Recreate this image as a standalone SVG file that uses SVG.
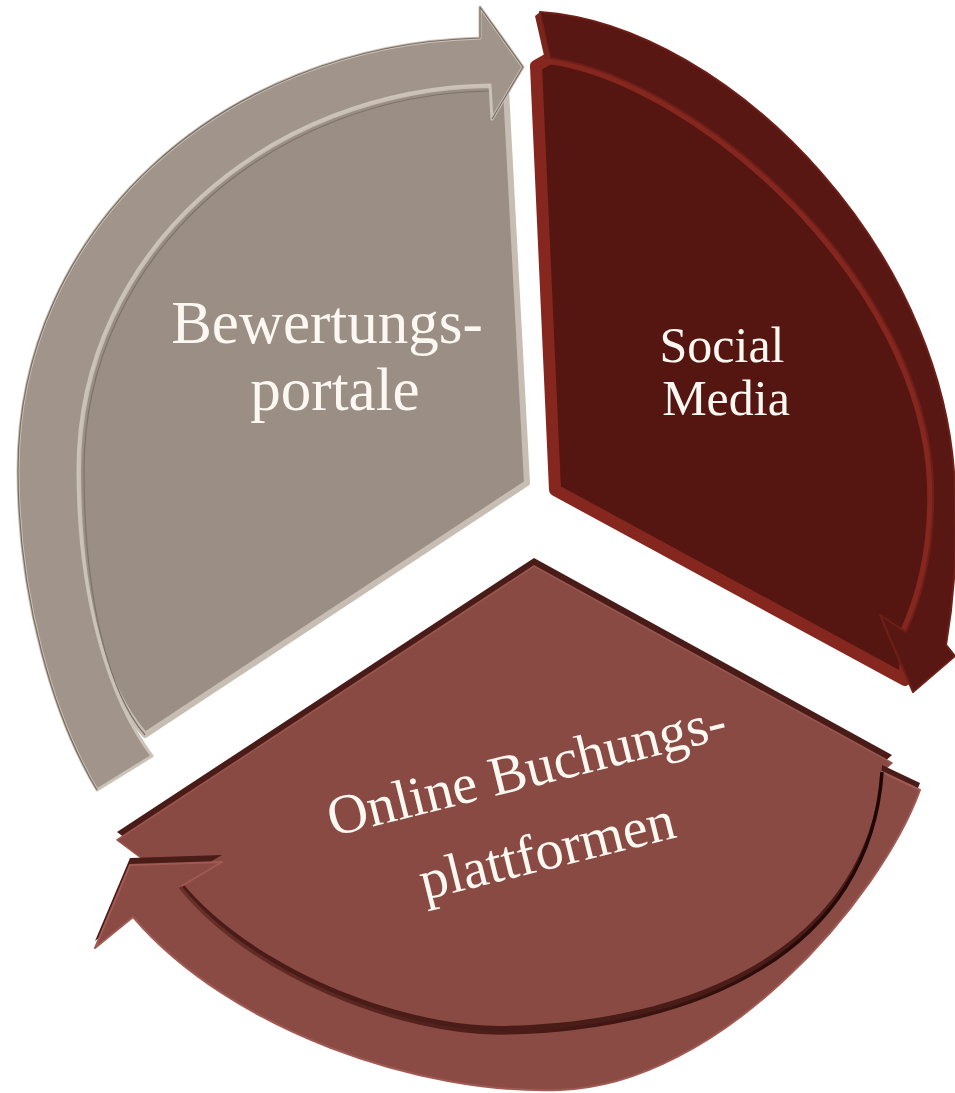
<svg xmlns="http://www.w3.org/2000/svg" width="955" height="1093" viewBox="0 0 955 1093">
<defs>
<style>
.lbl{font-family:"Liberation Serif","Times New Roman",serif;fill:#FBF7F1;}
.gbody{fill:#9B8F85;stroke:#C7BDB3;stroke-width:6;stroke-linejoin:round;}
.gband{fill:#A1958B;stroke:#CBC2B8;stroke-width:3;stroke-linejoin:round;}
.gedge{fill:none;stroke:#776C63;stroke-width:1.2;stroke-linejoin:round;}
.ggroove{fill:none;stroke:#7E736A;stroke-width:1.2;}
.rbody{fill:#551612;stroke:#86271F;stroke-width:12;stroke-linejoin:round;}
.rband{fill:#591713;stroke:#6E1F18;stroke-width:2;stroke-linejoin:round;}
.rstart{fill:#7A241C;}
.bbody{fill:#8A4A44;stroke:#9A5650;stroke-width:1.5;stroke-linejoin:round;}
.bband{fill:#8B4B45;stroke:#A15A53;stroke-width:2;stroke-linejoin:round;}
.rim{fill:#4A1C18;}
.groove{fill:none;stroke:url(#grooveGrad);stroke-width:3.5;}
</style>
<linearGradient id="grooveGrad" x1="180" y1="0" x2="890" y2="0" gradientUnits="userSpaceOnUse">
<stop offset="0" stop-color="#6B302A"/>
<stop offset="0.5" stop-color="#4A1A16"/>
<stop offset="1" stop-color="#1C0604"/>
</linearGradient>
</defs>
<rect width="955" height="1093" fill="#FFFFFF"/>

<!-- Bewertungsportale -->
<g id="node-bewertungsportale">
<path class="gbody" d="M490,85 L506,90 L527,483 L145,735 C105,690 78,600 78,470 C78,250 270,88 490,85 Z"/>
<path class="ggroove" d="M145,735 C109,693 84,600 84,470 C84,255 272,94 490,91"/>
<text class="lbl" x="327" y="343" font-size="61" text-anchor="middle">Bewertungs-</text>
<text class="lbl" x="335" y="410" font-size="61" text-anchor="middle">portale</text>
</g>

<!-- Social Media -->
<g id="node-social-media">
<path class="rbody" d="M536,66 L555,490 L905,680 L906,632 C925,590 935,540 933,483 C925,280 700,80 550,58 Z"/>
<text class="lbl" x="722" y="362" font-size="50" text-anchor="middle">Social</text>
<text class="lbl" x="726" y="415" font-size="50" text-anchor="middle">Media</text>
</g>

<!-- Online Buchungsplattformen -->
<g id="node-online-buchungsplattformen">
<path class="rim" transform="translate(0,-8)" d="M534,566 L892,763 L882,772 C870,950 700,1030 500,1033 C400,1033 250,975 180,887 L117,840 Z"/>
<path class="bbody" d="M534,566 L892,763 L882,772 C870,950 700,1030 500,1033 C400,1033 250,975 180,887 L117,840 Z"/>
<g transform="translate(531,787) rotate(-14)">
<text class="lbl" x="0" y="0" font-size="56" text-anchor="middle">Online Buchungs-</text>
<text class="lbl" x="0" y="84" font-size="56" text-anchor="middle">plattformen</text>
</g>
</g>

<!-- cycle arrows -->
<g id="connectors">
<g id="arrow-grey">
<path class="gband" d="M97,790 C55,720 18,600 18,470 C18,230 220,45 480,38 L480,7 L523,67 L492,119 L490,85 C270,88 78,250 78,470 C78,600 110,700 152,756 Z"/>
<path class="gedge" d="M97,790 C55,720 18,600 18,470 C18,230 220,45 480,38 L480,7 L523,67 L492,119"/>
</g>
<g id="arrow-red">
<path class="rband" d="M540,12 C730,25 960,260 955,510 C957,560 952,610 946,645 L955,656 L913,692 L880,615 L906,632 C925,590 935,540 933,483 C925,280 700,80 550,58 Z"/>
<path class="rstart" d="M540,12 L550,58 L545,60 L535,16 Z"/>
</g>
<g id="arrow-brown">
<path class="rim" transform="translate(0,-7)" d="M920,790 C880,900 720,1085 560,1090 C420,1095 230,1030 133,917 L95,948 L130,865 L222,862 L180,887 C250,975 400,1033 500,1033 C700,1030 870,950 882,772 Z"/>
<path class="bband" d="M920,790 C880,900 720,1085 560,1090 C420,1095 230,1030 133,917 L95,948 L130,865 L222,862 L180,887 C250,975 400,1033 500,1033 C700,1030 870,950 882,772 Z"/>
<path class="groove" d="M180,887 C250,975 400,1033 500,1033 C700,1030 870,950 882,772"/>
</g>
</g>
</svg>
